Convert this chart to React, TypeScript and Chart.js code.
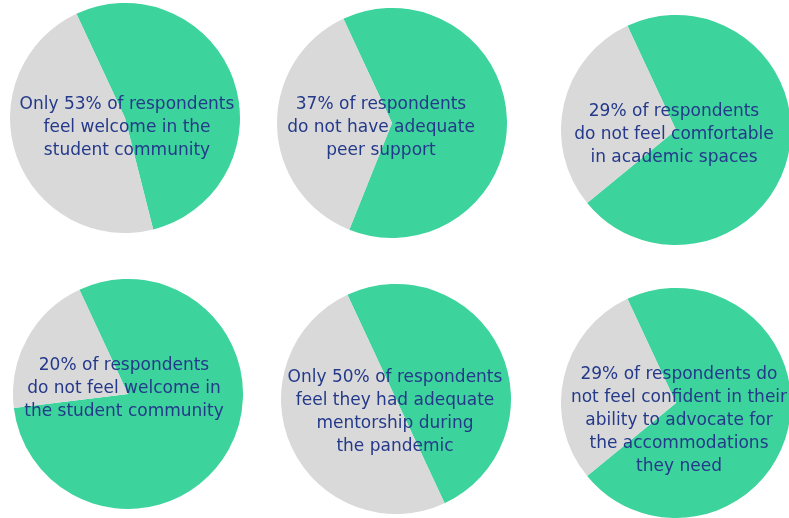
import { useEffect, useRef } from "react";
import { Chart, registerables } from "chart.js";

Chart.register(...registerables);

// Survey results: each pie shows the share answering positively (green)
// against the share answering negatively (grey).
const sliceLabels = ["Positive", "Negative"];
const positiveShare = [53, 63, 71, 80, 50, 71];
const negativeShare = [47, 37, 29, 20, 50, 29];

const captions: string[][] = [
  ["Only 53% of respondents", "feel welcome in the", "student community"],
  ["37% of respondents", "do not have adequate", "peer support"],
  ["29% of respondents", "do not feel comfortable", "in academic spaces"],
  ["20% of respondents", "do not feel welcome in", "the student community"],
  ["Only 50% of respondents", "feel they had adequate", "mentorship during", "the pandemic"],
  ["29% of respondents do", "not feel confident in their", "ability to advocate for", "the accommodations", "they need"],
];

// Placement of each pie (centre) and the caption offset from that centre.
const panelLayout = [
  { cx: 125, cy: 118, dx: 2, dy: 10 },
  { cx: 392, cy: 123, dx: -11, dy: 5 },
  { cx: 676, cy: 130, dx: -2, dy: 5 },
  { cx: 128, cy: 394, dx: -4, dy: -5 },
  { cx: 396, cy: 399, dx: -1, dy: 13 },
  { cx: 676, cy: 403, dx: 3, dy: 18 },
];

const RADIUS = 115;
const GREEN = "#3dd39c";
const GREY = "#d9d9d9";
const INK = "#24398a";

const captionPlugin = {
  id: "caption",
  afterDatasetsDraw(chart: any, _args: any, opts: any) {
    const arc = chart.getDatasetMeta(0).data[0];
    if (!arc) return;
    const { ctx } = chart;
    const lines: string[] = opts.lines || [];
    const lineHeight = 23;
    const top = arc.y + opts.dy - ((lines.length - 1) * lineHeight) / 2;
    ctx.save();
    ctx.font = "17px 'DejaVu Sans'";
    ctx.fillStyle = INK;
    ctx.textAlign = "center";
    ctx.textBaseline = "middle";
    lines.forEach((line, i) => ctx.fillText(line, arc.x + opts.dx, top + i * lineHeight));
    ctx.restore();
  },
};

function SurveyPie({ index }: { index: number }) {
  const ref = useRef<HTMLCanvasElement>(null);
  const pos = panelLayout[index];

  useEffect(() => {
    if (!ref.current) return;
    const chart = new Chart(ref.current, {
      type: "pie",
      data: {
        labels: sliceLabels,
        datasets: [
          {
            data: [positiveShare[index], negativeShare[index]],
            backgroundColor: [GREEN, GREY],
            borderWidth: 0,
            hoverOffset: 0,
          },
        ],
      },
      options: {
        responsive: false,
        animation: false,
        rotation: -25,
        layout: { padding: 0 },
        events: [],
        plugins: {
          legend: { display: false },
          tooltip: { enabled: false },
          caption: { lines: captions[index], dx: pos.dx, dy: pos.dy },
        } as any,
      },
      plugins: [captionPlugin],
    });
    return () => chart.destroy();
  }, [index]);

  return (
    <canvas
      ref={ref}
      width={RADIUS * 2}
      height={RADIUS * 2}
      style={{
        position: "absolute",
        left: pos.cx - RADIUS,
        top: pos.cy - RADIUS,
        width: RADIUS * 2,
        height: RADIUS * 2,
      }}
    />
  );
}

export default function App() {
  return (
    <div
      style={{
        position: "fixed",
        left: 0,
        top: 0,
        width: 789,
        height: 518,
        overflow: "hidden",
        background: "#ffffff",
      }}
    >
      {panelLayout.map((_, i) => (
        <SurveyPie key={i} index={i} />
      ))}
    </div>
  );
}
